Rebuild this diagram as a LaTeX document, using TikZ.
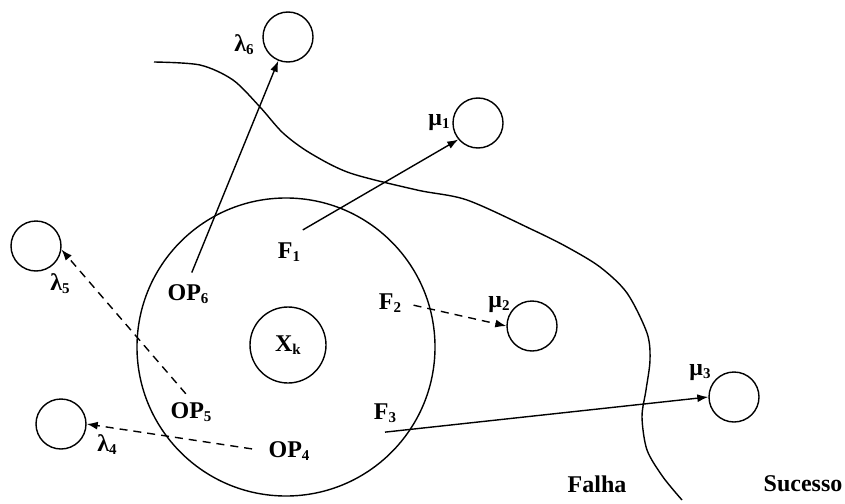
\documentclass[tikz,border=0pt]{standalone}
\usepackage{fontspec}
\setmainfont{Liberation Serif}
\usepackage{tikz}
\usetikzlibrary{arrows.meta}
\newcommand{\lbsub}[2]{#1\raisebox{-3pt}{\fontsize{15}{15}\selectfont #2}}

\begin{document}
\begin{tikzpicture}[x=1pt, y=-1pt,
    >={Latex[length=11pt, width=8pt]},
    line width=1.4pt,
    statecirc/.style={draw, circle, minimum size=50pt, inner sep=0pt},
    lbl/.style={inner sep=2pt, font=\fontsize{24}{28}\selectfont\bfseries},
    dashline/.style={dash pattern=on 8pt off 6pt},
]
    \useasboundingbox (0,0) rectangle (845,503);

    % boundary between failure and success
    \draw plot[smooth, tension=0.5] coordinates {(154,62) (200,65) (233,80) (260,107) (283,133)
        (310,153) (350,173) (417,190) (467,200) (533,230) (567,247) (600,267) (627,293)
        (647,333) (650,360) (646,390) (642,417) (647,450) (663,477) (682,500)};

    % current state and its neighbourhood
    \node[draw, circle, minimum size=298pt] (sys) at (286,347) {};
    \node[draw, circle, minimum size=76pt, inner sep=0pt, lbl] (xk) at (288,345) {\lbsub{X}{k}};

    % target states
    \node[statecirc] (lam6) at (288,37) {};
    \node[statecirc] (mu1) at (478,123) {};
    \node[statecirc] (lam5) at (36,246) {};
    \node[statecirc] (mu2) at (532,326) {};
    \node[statecirc] (mu3) at (734,397) {};
    \node[statecirc] (lam4) at (61,424) {};

    \node[lbl] at (244,45) {\lbsub{λ}{6}};
    \node[lbl] at (439,123) {\lbsub{μ}{1}};
    \node[lbl] at (60,284) {\lbsub{λ}{5}};
    \node[lbl] at (499,305) {\lbsub{μ}{2}};
    \node[lbl] at (700,373) {\lbsub{μ}{3}};
    \node[lbl] at (107,445) {\lbsub{λ}{4}};

    % transitions
    \node[lbl] (f1) at (289,252) {\lbsub{F}{1}};
    \node[lbl] (f2) at (390,303) {\lbsub{F}{2}};
    \node[lbl] (f3) at (385,413) {\lbsub{F}{3}};
    \node[lbl] (op6) at (188,294) {\lbsub{OP}{6}};
    \node[lbl] (op5) at (191,412) {\lbsub{OP}{5}};
    \node[lbl] (op4) at (289,451) {\lbsub{OP}{4}};

    \node[lbl] (falha) at (597,484) {Falha};
    \node[lbl] (sucesso) at (803,484) {Sucesso};

    \draw[->, shorten <=10pt] (op6.north) -- (lam6);
    \draw[->] ([yshift=10pt]f1.north east) -- (mu1.220);
    \draw[->, dashline, shorten <=8pt] (op5.north) -- (lam5.-8);
    \draw[->, dashline, shorten <=14pt] (op4.west) -- (lam4.east);
    \draw[->, dashline, shorten <=10pt] (f2.east) -- (mu2.west);
    \draw[->] ([yshift=-7pt]f3.south) -- (mu3.west);
\end{tikzpicture}
\end{document}
